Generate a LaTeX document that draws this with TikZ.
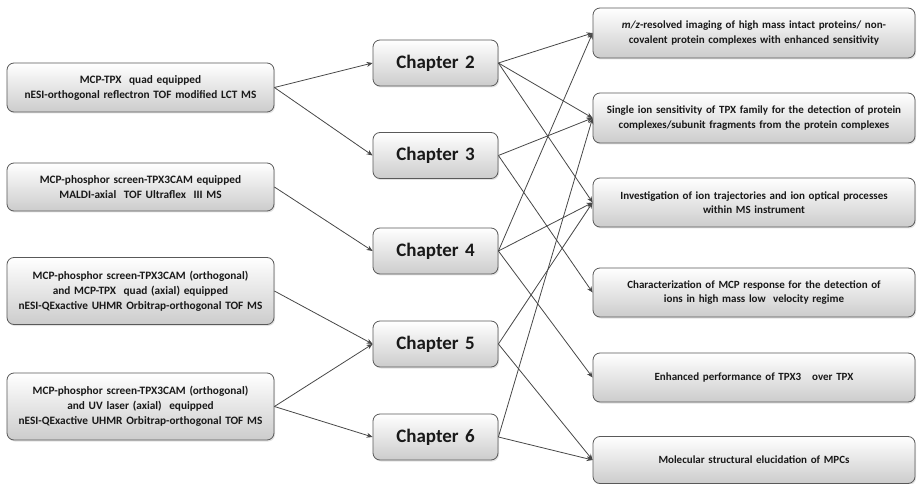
\documentclass[tikz,border=0pt]{standalone}
\usepackage{fontspec}
\setmainfont{Carlito}
\usetikzlibrary{arrows.meta,shadows}
\begin{document}
\begin{tikzpicture}[x=1bp,y=-1bp,
  box/.style={draw=black!65, line width=0.8bp, rounded corners=7bp,
    top color=white, bottom color=black!20, align=center, text=black!90,
    inner sep=0pt,
    drop shadow={opacity=0.22, shadow xshift=1bp, shadow yshift=-1.5bp}},
  lbox/.style={box, minimum width=267bp, text width=264bp,
    font=\bfseries\fontsize{11.3bp}{15bp}\selectfont},
  cbox/.style={box, minimum width=125bp, minimum height=46bp, text width=120bp,
    font=\bfseries\fontsize{19bp}{21bp}\selectfont},
  rbox/.style={box, minimum width=322bp, minimum height=49bp, text width=318bp,
    font=\bfseries\fontsize{11bp}{14.5bp}\selectfont},
  conn/.style={draw=black!72, line width=0.8bp, -{Stealth[length=6bp,width=5bp]}}
]
\useasboundingbox (0,0) rectangle (918,484);

% left boxes
\node[lbox, minimum height=49bp] (L1) at (140.5,87.5)
  {MCP-TPX\ \ quad equipped\\nESI-orthogonal reflectron TOF modified LCT MS};
\node[lbox, minimum height=48bp] (L2) at (140.5,187)
  {MCP-phosphor screen-TPX3CAM equipped\\MALDI-axial\ \ TOF Ultraflex\ \ III MS};
\node[lbox, minimum height=67bp] (L3) at (140.5,291)
  {MCP-phosphor screen-TPX3CAM (orthogonal)\\and MCP-TPX\ \ quad (axial) equipped\\nESI-QExactive UHMR Orbitrap-orthogonal TOF MS};
\node[lbox, minimum height=67bp] (L4) at (140.5,406.5)
  {MCP-phosphor screen-TPX3CAM (orthogonal)\\and UV laser (axial)\ \ equipped\\nESI-QExactive UHMR Orbitrap-orthogonal TOF MS};

% chapter boxes
\node[cbox] (C2) at (435.5,63) {Chapter 2};
\node[cbox] (C3) at (435.5,155.5) {Chapter 3};
\node[cbox] (C4) at (435.5,251) {Chapter 4};
\node[cbox] (C5) at (435.5,344) {Chapter 5};
\node[cbox] (C6) at (435.5,437) {Chapter 6};

% right boxes
\node[rbox, minimum height=50bp] (R1) at (754,33)
  {\textit{m/z}-resolved imaging of high mass intact proteins/ non-\\covalent protein complexes with enhanced sensitivity};
\node[rbox, minimum height=50bp] (R2) at (754,118)
  {Single ion sensitivity of TPX family for the detection of protein\\complexes/subunit fragments from the protein complexes};
\node[rbox] (R3) at (754,202.5)
  {Investigation of ion trajectories and ion optical processes\\within MS instrument};
\node[rbox] (R4) at (754,292.5)
  {Characterization of MCP response for the detection of\\ions in high mass low\ \ velocity regime};
\node[rbox] (R5) at (754,377.5)
  {Enhanced performance of TPX3\ \ \ over TPX};
\node[rbox, minimum height=47bp] (R6) at (754,460)
  {Molecular structural elucidation of MPCs};

% left to chapters
\draw[conn] (L1.east) -- (C2.west);
\draw[conn] (L1.east) -- (C3.west);
\draw[conn] (L2.east) -- (C4.west);
\draw[conn] (L3.east) -- (C5.west);
\draw[conn] (L4.east) -- (C5.west);
\draw[conn] (L4.east) -- (C6.west);

% chapters to outcomes
\draw[conn] (C2.east) -- (R1.west);
\draw[conn] (C2.east) -- (R2.west);
\draw[conn] (C2.east) -- (R3.west);
\draw[conn] (C3.east) -- (R2.west);
\draw[conn] (C3.east) -- (R4.west);
\draw[conn] (C4.east) -- (R1.west);
\draw[conn] (C4.east) -- (R3.west);
\draw[conn] (C4.east) -- (R5.west);
\draw[conn] (C5.east) -- (R3.west);
\draw[conn] (C5.east) -- (R6.west);
\draw[conn] (C6.east) -- (R2.west);
\draw[conn] (C6.east) -- (R6.west);
\end{tikzpicture}
\end{document}
